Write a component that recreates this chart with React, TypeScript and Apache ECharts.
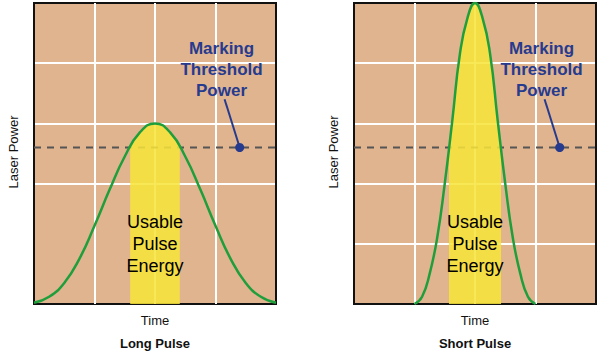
import React, { useEffect, useRef } from "react";
import * as echarts from "echarts";

// Long pulse curve (x in grid columns 0..4, y in grid rows 0..5)
const longX = [0, 0.25, 0.5, 0.75, 1, 1.25, 1.5, 1.75, 2, 2.25, 2.5, 2.75, 3, 3.25, 3.5, 3.75, 4];
const longY = [0.02, 0.12, 0.35, 0.75, 1.3, 1.9, 2.45, 2.85, 3.0, 2.85, 2.45, 1.9, 1.3, 0.75, 0.35, 0.12, 0.02];
const longBandX = [1.59, 1.75, 2, 2.25, 2.41];
const longBandY = [2.6, 2.85, 3.0, 2.85, 2.6];

// Short pulse curve
const shortX = [1, 1.125, 1.25, 1.375, 1.5, 1.625, 1.75, 1.875, 2, 2.125, 2.25, 2.375, 2.5, 2.625, 2.75, 2.875, 3];
const shortY = [0, 0.12, 0.5, 1.1, 2.0, 3.05, 4.15, 4.75, 5.0, 4.75, 4.15, 3.05, 2.0, 1.1, 0.5, 0.12, 0];
const shortBandX = [1.57, 1.625, 1.75, 1.875, 2, 2.125, 2.25, 2.375, 2.43];
const shortBandY = [2.6, 3.05, 4.15, 4.75, 5.0, 4.75, 4.15, 3.05, 2.6];

const threshold = 2.6;
const dotX = 3.4;
const pointerTop = [3.15, 3.4];
const noteAt = [3.1, 3.9];
const usableAt = [2, 1.0];

const panelTitles = ["Long Pulse", "Short Pulse"];
const xName = "Time";
const yName = "Laser Power";
const noteText = "Marking\nThreshold\nPower";
const usableText = "Usable\nPulse\nEnergy";

const TAN = "#e0b48f";
const YELLOW = "#f7e43a";
const GREEN = "#1f9e3c";
const BLUE = "#263a8e";
const EDGE = "#111111";
const FONT = "Liberation Sans";

const zip = (xs: number[], ys: number[]) => xs.map((x, i) => [x, ys[i]]);

function panelSeries(idx: number, cx: number[], cy: number[], bx: number[], by: number[]) {
  return [
    {
      type: "line",
      xAxisIndex: idx,
      yAxisIndex: idx,
      data: [[0, threshold], [4, threshold]],
      showSymbol: false,
      symbol: "none",
      lineStyle: { color: "#555", width: 2, type: [7, 6] },
      z: 1,
      silent: true,
    },
    {
      type: "line",
      xAxisIndex: idx,
      yAxisIndex: idx,
      data: zip(bx, by),
      smooth: 0.5,
      symbol: "none",
      lineStyle: { width: 0 },
      areaStyle: { color: YELLOW, opacity: 0.86 },
      z: 2,
      silent: true,
    },
    {
      type: "line",
      xAxisIndex: idx,
      yAxisIndex: idx,
      data: zip(cx, cy),
      smooth: 0.5,
      symbol: "none",
      lineStyle: { color: GREEN, width: 2.5 },
      z: 3,
      silent: true,
    },
    {
      type: "scatter",
      xAxisIndex: idx,
      yAxisIndex: idx,
      data: [[dotX, threshold]],
      symbolSize: 9,
      itemStyle: { color: BLUE, opacity: 1 },
      z: 5,
      silent: true,
      markLine: {
        silent: true,
        symbol: ["none", "none"],
        label: { show: false },
        lineStyle: { color: BLUE, width: 2, type: "solid", opacity: 1 },
        data: [[{ coord: pointerTop }, { coord: [dotX, threshold] }]],
      },
    },
    {
      type: "scatter",
      xAxisIndex: idx,
      yAxisIndex: idx,
      data: [noteAt],
      symbolSize: 1,
      itemStyle: { color: "rgba(0,0,0,0)", opacity: 1 },
      z: 6,
      silent: true,
      label: {
        show: true,
        position: "inside",
        formatter: noteText,
        color: BLUE,
        opacity: 1,
        textBorderWidth: 0,
        fontFamily: FONT,
        fontWeight: "bold",
        fontSize: 17,
        lineHeight: 21,
        align: "center",
        verticalAlign: "middle",
      },
    },
    {
      type: "scatter",
      xAxisIndex: idx,
      yAxisIndex: idx,
      data: [usableAt],
      symbolSize: 1,
      itemStyle: { color: "rgba(0,0,0,0)", opacity: 1 },
      z: 6,
      silent: true,
      label: {
        show: true,
        position: "inside",
        formatter: usableText,
        color: "#000",
        opacity: 1,
        textBorderWidth: 0,
        fontFamily: FONT,
        fontSize: 18,
        lineHeight: 22,
        align: "center",
        verticalAlign: "middle",
      },
    },
  ];
}

export default function App() {
  const ref = useRef<HTMLDivElement>(null);
  useEffect(() => {
    document.body.style.margin = "0";
    if (!ref.current) return;
    const chart = echarts.init(ref.current, undefined, { renderer: "svg" });
    const grids = [
      { left: 34, top: 3, width: 242, height: 301 },
      { left: 354, top: 3, width: 242, height: 301 },
    ];
    const xAxis = grids.map((_, i) => ({
      type: "value",
      gridIndex: i,
      min: 0,
      max: 4,
      interval: 1,
      axisLine: { show: false },
      axisTick: { show: false },
      axisLabel: { show: false },
      splitLine: { show: true, lineStyle: { color: [EDGE, "#ffffff", "#ffffff", "#ffffff", EDGE], width: 2 } },
    }));
    const yAxis = grids.map((_, i) => ({
      type: "value",
      gridIndex: i,
      min: 0,
      max: 5,
      interval: 1,
      axisLine: { show: false },
      axisTick: { show: false },
      axisLabel: { show: false },
      splitLine: {
        show: true,
        lineStyle: {
          color: [EDGE, i === 0 ? TAN : "#ffffff", "#ffffff", "#ffffff", "#ffffff", EDGE],
          width: 2,
        },
      },
    }));
    const graphic: any[] = [];
    grids.forEach((g, i) => {
      const cx = g.left + g.width / 2;
      graphic.push(
        {
          type: "text",
          x: cx,
          y: 320,
          style: { text: xName, fontFamily: FONT, fontSize: 13, fill: "#111", align: "center", verticalAlign: "middle" },
        },
        {
          type: "text",
          x: cx,
          y: 343,
          style: { text: panelTitles[i], fontFamily: FONT, fontSize: 13, fontWeight: "bold", fill: "#111", align: "center", verticalAlign: "middle" },
        },
        {
          type: "text",
          x: g.left - 21,
          y: 152,
          rotation: Math.PI / 2,
          style: { text: yName, fontFamily: FONT, fontSize: 13, fill: "#111", align: "center", verticalAlign: "middle" },
        }
      );
    });
    chart.setOption({
      animation: false,
      backgroundColor: "#ffffff",
      grid: grids.map((g) => ({
        ...g,
        show: true,
        backgroundColor: TAN,
        borderColor: EDGE,
        borderWidth: 2,
      })),
      xAxis,
      yAxis,
      series: [
        ...panelSeries(0, longX, longY, longBandX, longBandY),
        ...panelSeries(1, shortX, shortY, shortBandX, shortBandY),
      ],
      graphic,
    });
    return () => chart.dispose();
  }, []);
  return <div ref={ref} style={{ width: 600, height: 355 }} />;
}
